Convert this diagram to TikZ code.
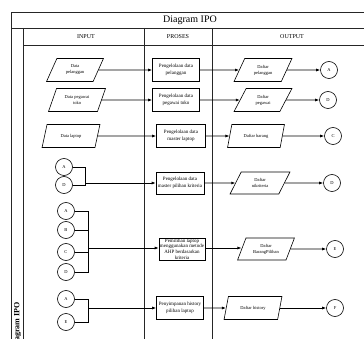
\documentclass[tikz,border=0pt]{standalone}
\usepackage{fontspec}
\setmainfont{Liberation Serif}
\usetikzlibrary{shapes.geometric,arrows.meta}
\begin{document}
\begin{tikzpicture}[x=1pt,y=-1pt,
  frame/.style={line width=0.8pt,draw=black!85},
  io/.style={trapezium,trapezium left angle=62,trapezium right angle=118,draw,line width=0.6pt,
    trapezium stretches=true,minimum width=#1,minimum height=23pt,inner sep=0pt,align=center,
    font=\fontsize{4.5}{6}\selectfont},
  io/.default=57pt,
  proc/.style={rectangle,draw,line width=0.7pt,minimum width=#1,minimum height=23pt,inner sep=0pt,
    align=center,font=\fontsize{5}{7}\selectfont},
  proc/.default=47pt,
  conn/.style={circle,draw,line width=0.6pt,minimum size=17pt,inner sep=0pt,font=\fontsize{4.5}{5}\selectfont},
  arr/.style={line width=0.7pt,-{Latex[length=4pt,width=3pt]}},
  ln/.style={line width=0.7pt},
  hdr/.style={font=\fontsize{6}{7}\selectfont,inner sep=0pt}
]
\useasboundingbox (0,0) rectangle (364,339);
\clip (0,0) rectangle (364,339);
% frame
\draw[frame] (364,12) -- (11,12) -- (11,339);
\draw[frame] (11,28) -- (364,28);
\draw[frame] (23,28) -- (23,339);
\draw[frame] (23,45) -- (364,45);
\draw[frame] (144,28) -- (144,339);
\draw[frame] (212,28) -- (212,339);
\node[font=\fontsize{10}{12}\selectfont,inner sep=0pt] (title) at (190,20) {Diagram IPO};
\node[hdr] (hin) at (86,37) {INPUT};
\node[hdr] (hpr) at (178,37) {PROSES};
\node[hdr] (hout) at (292,37) {OUTPUT};
\node[font=\fontsize{8}{9}\selectfont\bfseries,rotate=90,anchor=east,inner sep=0pt] (side) at (17.5,302) {Diagram IPO};
% row 1
\node[io] (in1) at (75,70) {Data\\pelanggan};
\node[proc] (p1) at (176,70) {Pengelolaan data\\pelanggan};
\node[io=58pt] (o1) at (263,70) {Daftar\\pelanggan};
\node[conn] (cA1) at (329,70) {A};
\draw[arr] (in1) -- (p1);
\draw[arr] (p1) -- (o1);
\draw[arr] (o1) -- (cA1);
% row 2
\node[io] (in2) at (77,100) {Data pegawai\\toko};
\node[proc] (p2) at (176,100) {Pengelolaan data\\pegawai toko};
\node[io=58pt] (o2) at (263,100) {Daftar\\pegawai};
\node[conn] (cD1) at (328,100) {D};
\draw[arr] (in2) -- (p2);
\draw[arr] (p2) -- (o2);
\draw[arr] (o2) -- (cD1);
% row 3
\node[io=58pt] (in3) at (71,136) {Data laptop};
\node[proc=49pt] (p3) at (181,136) {Pengelolaan data\\master laptop};
\node[io=57pt] (o3) at (256,136) {Daftar barang};
\node[conn] (cC) at (333,136) {C};
\draw[arr] (in3) -- (p3);
\draw[arr] (p3) -- (o3);
\draw[arr] (o3) -- (cC);
% row 4
\node[conn] (cA2) at (64,167) {A};
\node[conn] (cD2) at (64,185) {D};
\coordinate (j4) at (85,183);
\node[proc=48pt,minimum height=22pt] (p4) at (180,183) {Pengelolaan data\\master pilihan kriteria};
\node[io=60pt,minimum height=22pt] (o4) at (260,183) {Daftar\\nikriteria};
\node[conn] (cD3) at (332,183) {D};
\draw[ln] (cA2.east) -- (cA2.east -| j4) -- (cD2.east -| j4) -- (cD2.east);
\draw[arr] (j4) -- (j4 -| p4.west);
\draw[arr] (p4) -- (o4);
\draw[arr] (o4) -- (cD3);
% row 5
\node[conn] (cA3) at (66,211) {A};
\node[conn] (cB) at (66,230) {B};
\node[conn] (cC2) at (66,252) {C};
\node[conn] (cD4) at (66,272) {D};
\coordinate (j5) at (88,248);
\node[proc=46pt,minimum height=22pt,font=\fontsize{5}{5.8}\selectfont] (p5) at (182,249) {Pemilihan laptop\\menggunakan metode\\AHP berdasarkan\\kriteria};
\node[io=57pt,minimum height=22pt] (o5) at (266,249) {Daftar\\BarangPilihan};
\node[conn] (cE) at (335,249) {E};
\draw[ln] (cA3.east) -- (cA3.east -| j5) -- (cD4.east -| j5) -- (cD4.east);
\draw[ln] (cB.east) -- (cB.east -| j5);
\draw[ln] (cC2.east) -- (cC2.east -| j5);
\draw[arr] (j5) -- (j5 -| p5.west);
\draw[arr] (p5.east |- j5) -- (j5 -| o5.west);
\draw[arr] (o5) -- (cE);
% row 6
\node[conn] (cA4) at (66,299) {A};
\node[conn] (cE2) at (66,322) {E};
\coordinate (j6) at (88,308);
\node[proc] (p6) at (180,308) {Penyimpanan history\\pilihan laptop};
\node[io=58pt] (o6) at (253,308) {Daftar history};
\node[conn] (cF) at (335,308) {F};
\draw[ln] (cA4.east) -- (cA4.east -| j6) -- (cE2.east -| j6) -- (cE2.east);
\draw[arr] (j6) -- (j6 -| p6.west);
\draw[arr] (p6) -- (o6);
\draw[arr] (o6) -- (cF);
\end{tikzpicture}
\end{document}
